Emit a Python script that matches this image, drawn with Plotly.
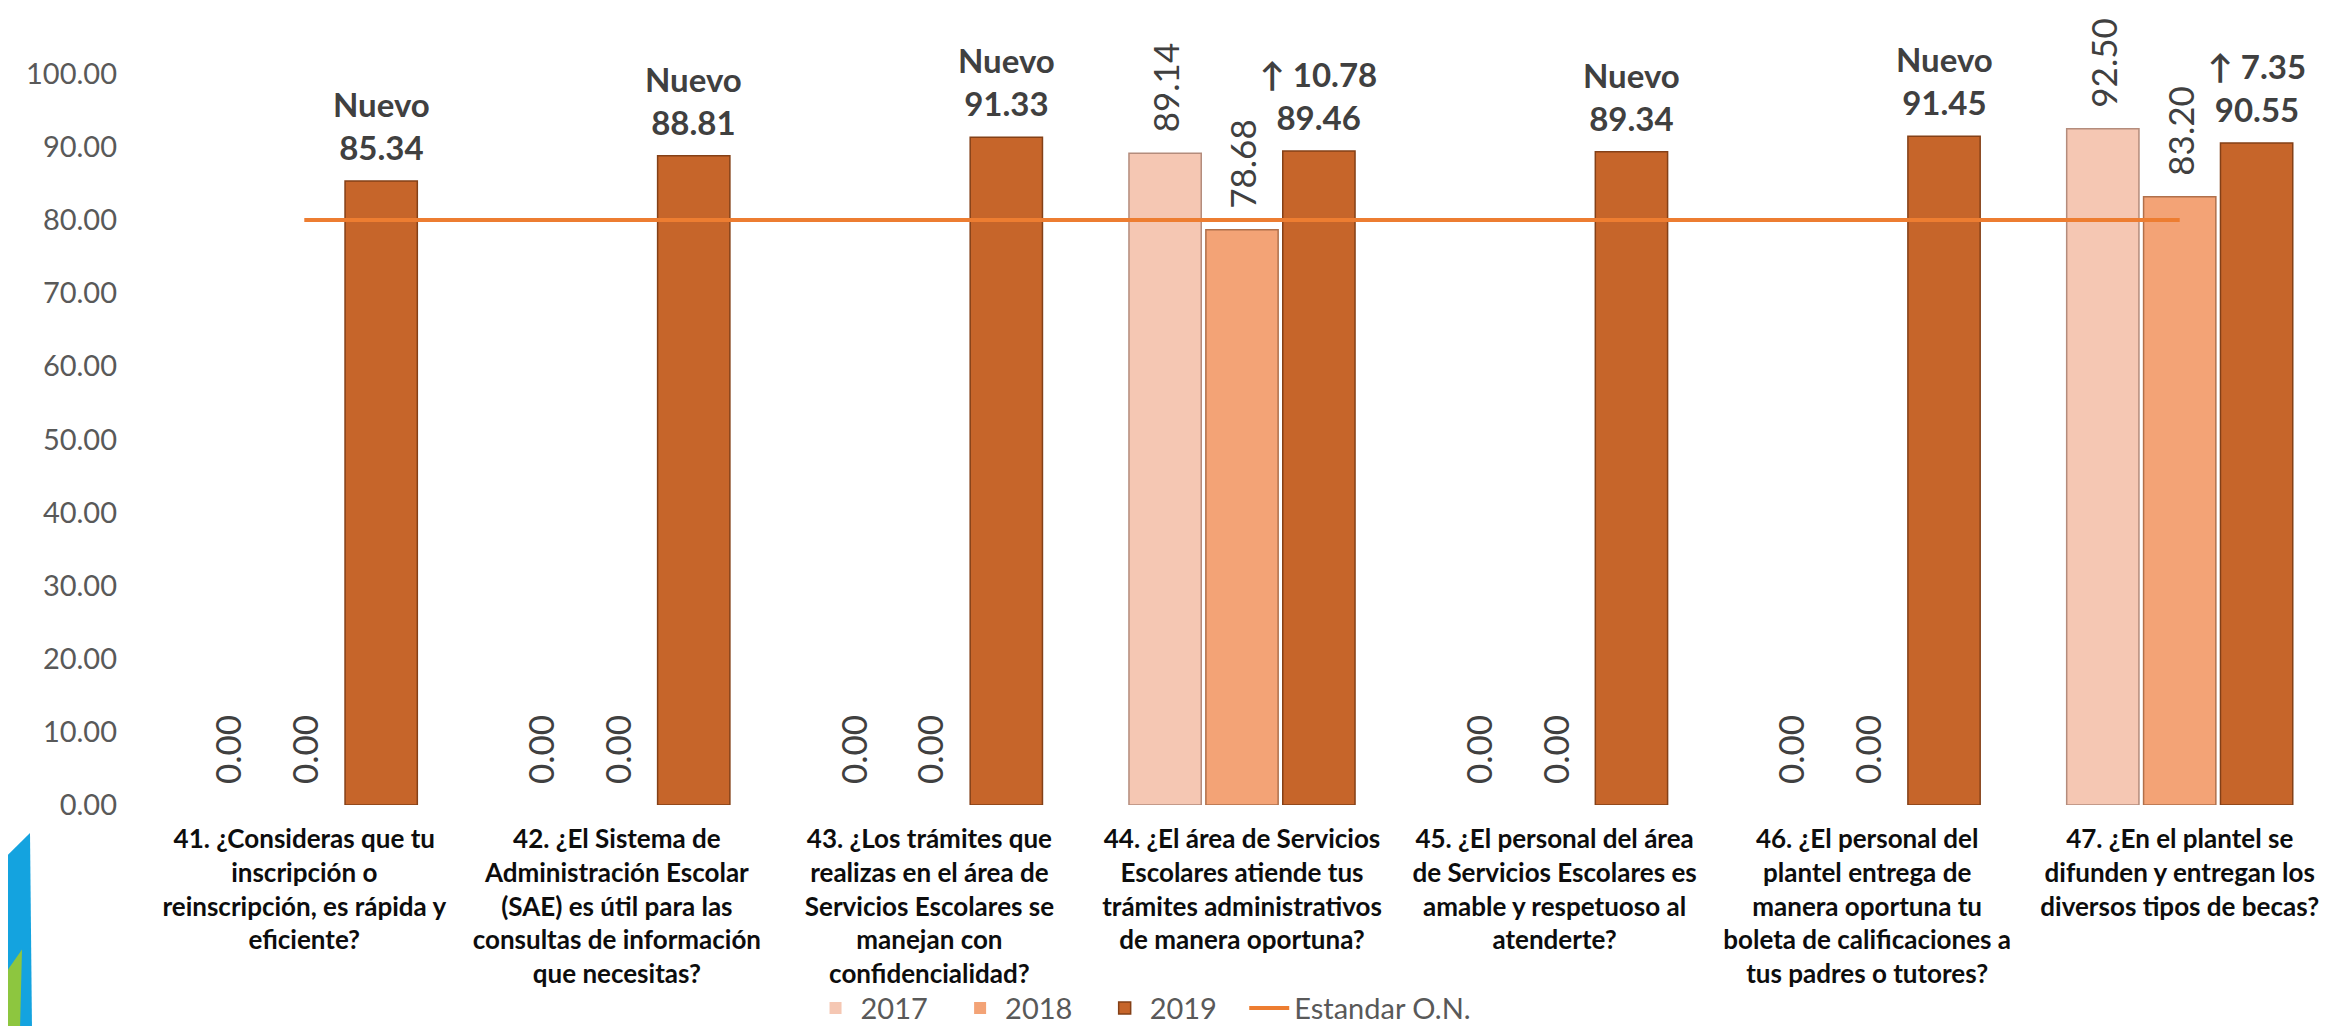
import plotly.graph_objects as go

categories = [
    "41. ¿Consideras que tu<br>inscripción o<br>reinscripción, es rápida y<br>eficiente?",
    "42. ¿El Sistema de<br>Administración Escolar<br>(SAE) es útil para las<br>consultas de información<br>que necesitas?",
    "43. ¿Los trámites que<br>realizas en el área de<br>Servicios Escolares se<br>manejan con<br>confidencialidad?",
    "44. ¿El área de Servicios<br>Escolares atiende tus<br>trámites administrativos<br>de manera oportuna?",
    "45. ¿El personal del área<br>de Servicios Escolares es<br>amable y respetuoso al<br>atenderte?",
    "46. ¿El personal del<br>plantel entrega de<br>manera oportuna tu<br>boleta de calificaciones a<br>tus padres o tutores?",
    "47. ¿En el plantel se<br>difunden y entregan los<br>diversos tipos de becas?",
]
values_2017 = [0.00, 0.00, 0.00, 89.14, 0.00, 0.00, 92.50]
values_2018 = [0.00, 0.00, 0.00, 78.68, 0.00, 0.00, 83.20]
values_2019 = [85.34, 88.81, 91.33, 89.46, 89.34, 91.45, 90.55]
labels_2019 = ["Nuevo", "Nuevo", "Nuevo", "↑ 10.78", "Nuevo", "Nuevo", "↑ 7.35"]
estandar = [80, 80, 80, 80, 80, 80, 80]
series_names = ["2017", "2018", "2019", "Estandar O.N."]
y_ticks = [0, 10, 20, 30, 40, 50, 60, 70, 80, 90, 100]

FONT = "Lato"
W, H = 2328, 1026
ML, MR, MT, MB = 140, 0, 0, 226
PW, PH = W - ML - MR, H - MT - MB
X_RANGE = [-0.5, 6.5]
BARGAP, GROUPGAP = 0.262, 0.06
SLOT_PX = PW / (X_RANGE[1] - X_RANGE[0]) * (1 - BARGAP) / 3
PAD = "\u00a0" * 3  # extra spacing between legend entries


def px2paper(x, y):
    return (x - ML) / PW, (H - MB - y) / PH


def line_widths(vals, w):
    return [w if v > 0 else 0 for v in vals]


fig = go.Figure()
fig.add_trace(go.Bar(
    name=series_names[0] + PAD, x=categories, y=values_2017,
    marker=dict(color="#F5C7B3", line=dict(color="#B48C7C", width=line_widths(values_2017, 1.5))),
    texttemplate="\u00a0\u00a0%{y:.2f}", textposition="outside", textangle=-90,
    outsidetextfont=dict(family=FONT, size=35, color="#404040"),
))
fig.add_trace(go.Bar(
    name=series_names[1] + PAD, x=categories, y=values_2018,
    marker=dict(color="#F3A376", line=dict(color="#B0704B", width=line_widths(values_2018, 1.5))),
    texttemplate="\u00a0\u00a0%{y:.2f}", textposition="outside", textangle=-90,
    outsidetextfont=dict(family=FONT, size=35, color="#404040"),
))
fig.add_trace(go.Bar(
    name=series_names[2] + PAD, x=categories, y=values_2019,
    marker=dict(color="#C6652A", line=dict(color="#844017", width=line_widths(values_2019, 1.5))),
))
fig.add_trace(go.Scatter(
    name=series_names[3], x=categories, y=estandar, mode="lines",
    line=dict(color="#ED7D31", width=4),
))

annotations = []
for cat, v, lab in zip(categories, values_2019, labels_2019):
    annotations.append(dict(
        x=cat, y=v, xref="x", yref="y", xshift=SLOT_PX, yshift=12,
        yanchor="bottom", xanchor="center", showarrow=False,
        text=f"<b>{lab}<br>{v:.2f}</b>",
        font=dict(family=FONT, size=33, color="#404040"),
    ))

bx = [px2paper(0, 850), px2paper(22, 828), px2paper(24, 1026), px2paper(0, 1026)]
gx = [px2paper(0, 965), px2paper(14, 945), px2paper(12, 1026), px2paper(0, 1026)]


def path(pts):
    return "M " + " L ".join(f"{a},{b}" for a, b in pts) + " Z"


fig.update_layout(
    width=W, height=H,
    margin=dict(l=ML, r=MR, t=MT, b=MB),
    paper_bgcolor="white", plot_bgcolor="white",
    barmode="group", bargap=BARGAP, bargroupgap=GROUPGAP,
    font=dict(family=FONT, color="#595959"),
    showlegend=True,
    legend=dict(
        orientation="h", x=0.455, xanchor="center", y=-0.255, yanchor="middle",
        font=dict(family=FONT, size=29, color="#595959"),
        bgcolor="rgba(0,0,0,0)",
        itemwidth=40, traceorder="normal",
    ),
    xaxis=dict(
        type="category", range=X_RANGE, showgrid=False, showline=False,
        zeroline=False, ticks="", tickangle=0, ticklabelstandoff=16,
        tickfont=dict(family=FONT, size=26, color="#0D0D0D", weight="bold"),
    ),
    yaxis=dict(
        range=[0, 109], tickvals=y_ticks, tickformat=".2f", showgrid=False,
        showline=False, zeroline=False, ticks="", ticklabelstandoff=30,
        tickfont=dict(family=FONT, size=29, color="#595959"),
    ),
    annotations=annotations,
    shapes=[
        dict(type="path", xref="paper", yref="paper", path=path(bx),
             fillcolor="#14A3DF", line=dict(width=0), layer="above"),
        dict(type="path", xref="paper", yref="paper", path=path(gx),
             fillcolor="#8DC63F", line=dict(width=0), layer="above"),
    ],
    hovermode=False,
)
fig.update_traces(cliponaxis=False, constraintext="none", selector=dict(type="bar"))

fig.write_html("out.html")
